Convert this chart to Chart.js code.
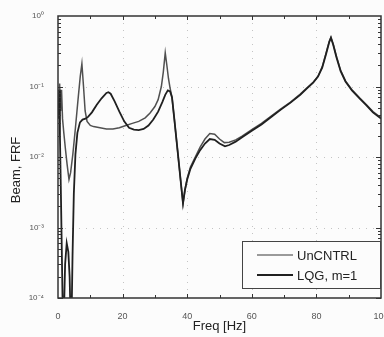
<!DOCTYPE html>
<html><head><meta charset="utf-8">
<script src="https://cdn.jsdelivr.net/npm/chart.js@4"></script>
<style>html,body{margin:0;padding:0;background:#fcfcfc}canvas{display:block}</style>
</head><body>
<canvas id="c" width="384" height="337"></canvas>
<script>
const freqUncntrl = [0.2,0.5,0.8,1.1,1.4,1.8,2.3,2.8,3.4,3.9,4.6,5.4,6.2,6.9,7.4,7.9,8.4,9.0,10,11,13,15,17,19,21,23,25,27,28.5,30,31,32,32.6,33.2,33.7,34.2,34.7,35.3,36,37,38,38.7,39.3,40,41,42.5,44,45.5,47,48.5,50,51.5,53,55,57,60,63,66,69,72,75,77,79,80.5,81.8,83,84,84.5,85.2,86.2,87.5,89,91,93.5,95.5,97.5,100];
const frfUncntrl = [0.05,0.11,0.045,0.09,0.035,0.022,0.013,0.008,0.0048,0.006,0.011,0.026,0.065,0.14,0.21,0.1,0.045,0.032,0.028,0.027,0.026,0.025,0.025,0.026,0.028,0.03,0.032,0.036,0.042,0.052,0.065,0.1,0.16,0.3,0.2,0.13,0.095,0.07,0.035,0.0126,0.0045,0.0022,0.0034,0.005,0.0072,0.01,0.0138,0.018,0.0215,0.021,0.018,0.016,0.0162,0.0175,0.0198,0.0245,0.03,0.038,0.048,0.06,0.078,0.095,0.115,0.14,0.19,0.3,0.44,0.5,0.4,0.27,0.17,0.12,0.09,0.068,0.055,0.044,0.036];
const freqLqg = [0.2,0.4,0.6,0.9,1.2,1.5,1.8,2.2,2.7,3.2,3.6,3.9,4.2,4.5,4.9,5.4,6,6.8,7.6,8.5,9.3,10.5,12,13.5,15,15.6,16.3,17.5,19,20.5,22,23.5,25,26.5,28,29.5,31,32.3,33.2,34,34.7,35.3,36,37,38,38.7,39.3,40,41,42.5,44,45.5,47,48.5,50,51.7,53,55,57,60,63,66,69,72,75,77,79,80.5,81.8,83,84,84.5,85.2,86.2,87.5,89,91,93.5,95.5,97.5,100];
const frfLqg = [0.035,0.09,0.02,0.003,0.0004,0.00005,0.00005,0.0003,0.0006,0.00045,0.0002,0.00005,0.00005,0.0004,0.003,0.011,0.022,0.031,0.034,0.035,0.037,0.043,0.055,0.068,0.081,0.083,0.079,0.062,0.044,0.032,0.026,0.0245,0.024,0.025,0.028,0.034,0.044,0.06,0.076,0.088,0.085,0.07,0.035,0.0126,0.0045,0.0022,0.0034,0.0048,0.0068,0.0095,0.0125,0.0155,0.018,0.0175,0.0155,0.0142,0.0148,0.0165,0.019,0.0235,0.029,0.037,0.047,0.059,0.076,0.093,0.113,0.138,0.185,0.29,0.43,0.49,0.39,0.26,0.165,0.118,0.088,0.067,0.054,0.043,0.035];
const xTickLabels = ['0','20','40','60','80','100'];
const yTickLabels = ['10\u207B\u2074','10\u207B\u00B3','10\u207B\u00B2','10\u207B\u00B9','10\u2070'];
const seriesNames = ['UnCNTRL','LQG, m=1'];
const xTitle = 'Freq [Hz]';
const yTitle = 'Beam, FRF';

const FONT = "'Liberation Sans', Arial, sans-serif";
const colUn = '#505050', colLqg = '#202020';

const decor = {
  id: 'decor',
  beforeDraw(chart) {
    const {ctx, width, height, chartArea: ca, scales: {x, y}} = chart;
    ctx.save();
    ctx.fillStyle = '#fcfcfc'; ctx.fillRect(0, 0, width, height);
    ctx.strokeStyle = '#c4c4c4'; ctx.lineWidth = 1; ctx.setLineDash([1, 6]);
    ctx.beginPath();
    for (let v = 20; v < 100; v += 20) {
      const px = Math.round(x.getPixelForValue(v)) + 0.5;
      ctx.moveTo(px, ca.top); ctx.lineTo(px, ca.bottom);
    }
    for (let e = -3; e <= -1; e++) {
      const py = Math.round(y.getPixelForValue(Math.pow(10, e))) + 0.5;
      ctx.moveTo(ca.left, py); ctx.lineTo(ca.right, py);
    }
    ctx.stroke();
    ctx.restore();
  },
  afterDatasetsDraw(chart) {
    const {ctx, chartArea: ca, scales: {x, y}} = chart;
    ctx.save();
    ctx.strokeStyle = '#333'; ctx.lineWidth = 1.5;
    ctx.strokeRect(ca.left, ca.top, ca.right - ca.left, ca.bottom - ca.top);
    ctx.lineWidth = 1;
    ctx.beginPath();
    for (let v = 10; v < 100; v += 10) {
      const px = Math.round(x.getPixelForValue(v)) + 0.5;
      const L = v % 20 === 0 ? 4 : 3;
      ctx.moveTo(px, ca.bottom); ctx.lineTo(px, ca.bottom - L);
      ctx.moveTo(px, ca.top); ctx.lineTo(px, ca.top + L);
    }
    for (let e = -4; e < 0; e++) {
      for (let k = 1; k < 10; k++) {
        const v = k * Math.pow(10, e);
        const py = Math.round(y.getPixelForValue(v)) + 0.5;
        const L = k === 1 ? 5 : 3;
        ctx.moveTo(ca.left, py); ctx.lineTo(ca.left + L, py);
        ctx.moveTo(ca.right, py); ctx.lineTo(ca.right - L, py);
      }
    }
    ctx.stroke();
    // legend
    const bw = 138, bh = 47;
    const bx = ca.right - 1 - bw, by = ca.bottom - 10 - bh;
    ctx.fillStyle = '#fcfcfc'; ctx.fillRect(bx, by, bw, bh);
    ctx.strokeStyle = '#444'; ctx.lineWidth = 1;
    ctx.strokeRect(Math.round(bx) + 0.5, Math.round(by) + 0.5, bw, bh);
    const rows = [[seriesNames[0], '#7a7a7a', 1.3], [seriesNames[1], colLqg, 1.8]];
    rows.forEach((r, i) => {
      const ly = by + 14 + i * 20;
      ctx.strokeStyle = r[1]; ctx.lineWidth = r[2];
      ctx.beginPath(); ctx.moveTo(bx + 15, ly); ctx.lineTo(bx + 51, ly); ctx.stroke();
      ctx.fillStyle = '#222'; ctx.font = '13px ' + FONT;
      ctx.textBaseline = 'middle'; ctx.textAlign = 'left';
      ctx.fillText(r[0], bx + 55, ly + 1);
    });
    // y title
    ctx.translate(16, 170); ctx.rotate(-Math.PI / 2);
    ctx.fillStyle = '#222'; ctx.font = '13px ' + FONT;
    ctx.textAlign = 'center'; ctx.textBaseline = 'middle';
    ctx.fillText(yTitle, 0, 0);
    ctx.restore();
  }
};

const toPts = (xs, ys) => xs.map((f, i) => ({x: f, y: ys[i]}));

new Chart(document.getElementById('c'), {
  type: 'line',
  data: {
    datasets: [
      {label: seriesNames[1], data: toPts(freqLqg, frfLqg), borderColor: colLqg, borderWidth: 1.8, pointRadius: 0, tension: 0, order: 0},
      {label: seriesNames[0], data: toPts(freqUncntrl, frfUncntrl), borderColor: colUn, borderWidth: 1.5, pointRadius: 0, tension: 0, order: 1}
    ]
  },
  options: {
    responsive: false, animation: false,
    layout: {padding: {top: 16, right: 3, left: 0, bottom: 0}, autoPadding: false},
    plugins: {legend: {display: false}, tooltip: {enabled: false}},
    scales: {
      x: {
        type: 'linear', min: 0, max: 100,
        grid: {display: false}, border: {display: false},
        ticks: {stepSize: 20, padding: 5, color: '#555', font: {family: FONT, size: 9}, maxRotation: 0,
          callback: v => xTickLabels[Math.round(v / 20)]},
        title: {display: true, text: xTitle, color: '#222', font: {family: FONT, size: 13}, padding: {top: 0, bottom: 3}},
        afterFit: s => { s.height = 39; s.paddingLeft = 0; s.paddingRight = 0; }
      },
      y: {
        type: 'logarithmic', min: 1e-4, max: 1,
        grid: {display: false}, border: {display: false},
        ticks: {padding: 6, autoSkip: false, color: '#555', font: {family: FONT, size: 8},
          callback: v => { const e = Math.log10(v); return Math.abs(e - Math.round(e)) < 1e-6 ? yTickLabels[Math.round(e) + 4] : ''; }},
        afterFit: s => { s.width = 58; s.paddingTop = 0; s.paddingBottom = 0; }
      }
    }
  },
  plugins: [decor]
});
</script>
</body></html>
